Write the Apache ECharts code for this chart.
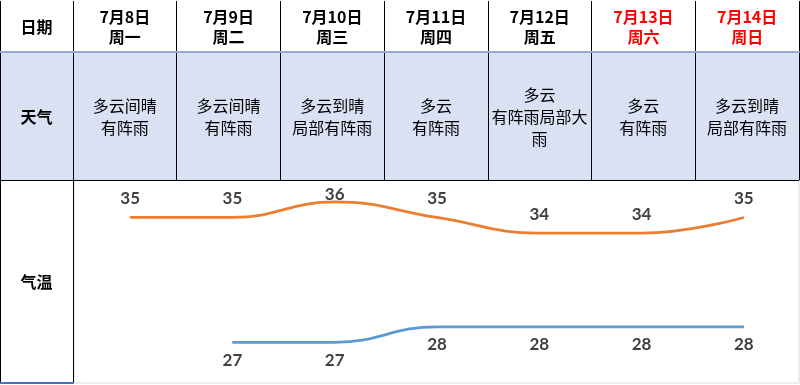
<!DOCTYPE html>
<html>
<head>
<meta charset="utf-8">
<script src="https://cdn.jsdelivr.net/npm/echarts@6/dist/echarts.min.js"></script>
<style>
html,body{margin:0;padding:0;background:#fff;}
#chart{width:800px;height:385px;}
</style>
</head>
<body>
<div id="chart"></div>
<script>
const rowLabels = ['日期', '天气', '气温'];
const dates = ['7月8日', '7月9日', '7月10日', '7月11日', '7月12日', '7月13日', '7月14日'];
const weekdays = ['周一', '周二', '周三', '周四', '周五', '周六', '周日'];
const weather = ['多云间晴\n有阵雨', '多云间晴\n有阵雨', '多云到晴\n局部有阵雨', '多云\n有阵雨', '多云\n有阵雨局部大雨', '多云\n有阵雨', '多云到晴\n局部有阵雨'];
const highs = [35, 35, 36, 35, 34, 34, 35];
const lows = [null, 27, 27, 28, 28, 28, 28];

const CJK = '"Noto Sans CJK SC", sans-serif';
const NUM = 'Lato, "Noto Sans", sans-serif';
const BLACK = '#000000';
const BLUE_BG = '#D9E1F2';

const headerStyle = { fontFamily: CJK, fontSize: 16, fontWeight: 'bold', lineHeight: 20, verticalAlign: 'middle', align: 'center' };
const weekendSet = ['周六', '周日'];
const headerData = dates.map((d, i) => {
  const item = { value: d + '\n' + weekdays[i] };
  if (weekendSet.includes(weekdays[i])) item.textStyle = Object.assign({}, headerStyle, { color: '#FF0000' });
  return item;
});

const maxHigh = Math.max(...highs);
const highData = highs.map(v => v === maxHigh ? { value: v, label: { distance: -2 } } : v);

function cellAxis(gridIndex, data, opts) {
  return Object.assign({
    type: 'category',
    gridIndex: gridIndex,
    position: 'top',
    data: data,
    boundaryGap: true,
    axisTick: { show: false },
    axisLine: { show: false },
    splitLine: { show: true, interval: 0, lineStyle: { color: BLACK, width: 1 } },
    axisLabel: { show: true, interval: 0, inside: true, verticalAlign: 'middle', align: 'center' }
  }, opts);
}

const option = {
  animation: false,
  backgroundColor: '#ffffff',
  grid: [
    { left: 0, top: 1, width: 73, height: 51, show: true, backgroundColor: '#fff', borderWidth: 0 },
    { left: 73, top: 1, right: 1, height: 51, show: true, backgroundColor: '#fff', borderWidth: 0 },
    { left: 0, top: 52, width: 73, height: 128, show: true, backgroundColor: BLUE_BG, borderWidth: 0 },
    { left: 73, top: 52, right: 1, height: 128, show: true, backgroundColor: BLUE_BG, borderWidth: 0 },
    { left: 0, top: 180, width: 73, height: 203, show: true, backgroundColor: '#fff', borderWidth: 0 },
    { left: 74, top: 180, right: 1, bottom: 2, show: true, backgroundColor: 'transparent', borderColor: '#D9D9D9', borderWidth: 1 },
    { left: 79, top: 180, right: 5, bottom: 2 }
  ],
  xAxis: [
    cellAxis(0, [rowLabels[0]], {
      axisLine: { show: true, lineStyle: { color: '#8FAADC', width: 2 } },
      axisLabel: { show: true, interval: 0, inside: true, margin: 26, verticalAlign: 'middle', fontFamily: CJK, fontSize: 16, fontWeight: 'bold', color: BLACK }
    }),
    cellAxis(1, headerData, {
      axisLine: { show: true, lineStyle: { color: '#8FAADC', width: 2 } },
      axisLabel: Object.assign({ show: true, interval: 0, inside: true, margin: 26, color: BLACK }, headerStyle)
    }),
    cellAxis(2, [rowLabels[1]], {
      axisLine: { show: true, lineStyle: { color: BLACK, width: 1 } },
      axisLabel: { show: true, interval: 0, inside: true, margin: 65, verticalAlign: 'middle', fontFamily: CJK, fontSize: 16, fontWeight: 'bold', color: BLACK }
    }),
    cellAxis(3, weather, {
      axisLine: { show: true, lineStyle: { color: BLACK, width: 1 } },
      axisLabel: { show: true, interval: 0, inside: true, margin: 65, verticalAlign: 'middle', fontFamily: CJK, fontSize: 16, color: BLACK, lineHeight: 22, width: 100, overflow: 'break' }
    }),
    cellAxis(4, [rowLabels[2]], {
      axisLabel: { show: true, interval: 0, inside: true, margin: 102, verticalAlign: 'middle', fontFamily: CJK, fontSize: 16, fontWeight: 'bold', color: BLACK }
    }),
    {
      type: 'category', gridIndex: 4, position: 'bottom', data: [''],
      axisTick: { show: false }, axisLabel: { show: false }, splitLine: { show: false },
      axisLine: { show: true, lineStyle: { color: '#4472C4', width: 2 } }
    },
    {
      type: 'category', gridIndex: 6, position: 'bottom', data: dates, boundaryGap: true,
      axisTick: { show: false }, axisLabel: { show: false }, splitLine: { show: false }, axisLine: { show: false }
    }
  ],
  yAxis: [
    { type: 'value', gridIndex: 0, show: false },
    { type: 'value', gridIndex: 1, show: false },
    { type: 'value', gridIndex: 2, show: false },
    { type: 'value', gridIndex: 3, show: false },
    { type: 'value', gridIndex: 4, show: false },
    { type: 'value', gridIndex: 6, show: false, min: 24.4, max: 37.4 }
  ],
  series: [
    {
      name: '最高气温', type: 'line', xAxisIndex: 6, yAxisIndex: 5,
      data: highData, smooth: 0.45, symbol: 'circle', symbolSize: 1,
      lineStyle: { color: '#ED7D31', width: 2.75 },
      itemStyle: { color: '#ED7D31' },
      label: { show: true, position: 'top', distance: 10, fontFamily: NUM, fontSize: 17, fontWeight: 'bold', color: '#404040' }
    },
    {
      name: '最低气温', type: 'line', xAxisIndex: 6, yAxisIndex: 5,
      data: lows, smooth: 0.45, symbol: 'circle', symbolSize: 1,
      lineStyle: { color: '#5B9BD5', width: 2.75 },
      itemStyle: { color: '#5B9BD5' },
      label: { show: true, position: 'bottom', distance: 9, fontFamily: NUM, fontSize: 17, fontWeight: 'bold', color: '#404040' }
    }
  ]
};

const chart = echarts.init(document.getElementById('chart'), null, { renderer: 'canvas' });
chart.setOption(option);
</script>
</body>
</html>
